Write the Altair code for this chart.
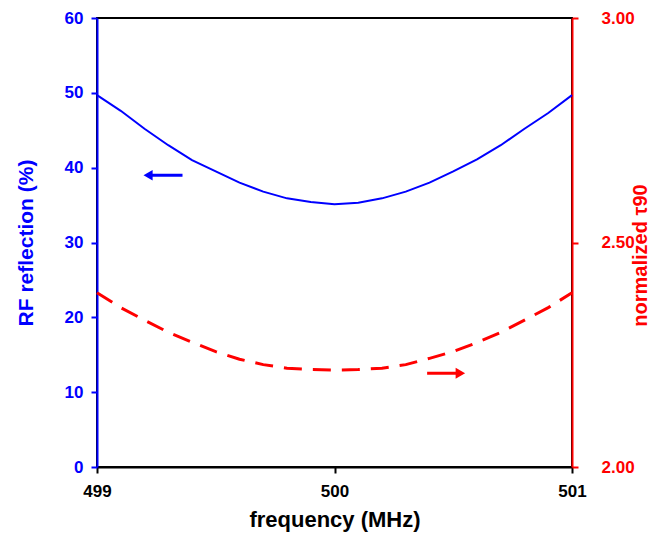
import altair as alt
import pandas as pd

freq = [499.0, 499.1, 499.2, 499.3, 499.4, 499.5, 499.6, 499.7, 499.8, 499.9, 500.0,
        500.1, 500.2, 500.3, 500.4, 500.5, 500.6, 500.7, 500.8, 500.9, 501.0]
rf_reflection = [49.7, 47.6, 45.2, 43.0, 41.0, 39.5, 38.0, 36.8, 35.9, 35.4, 35.1,
                 35.3, 35.9, 36.8, 38.0, 39.5, 41.1, 43.0, 45.2, 47.3, 49.7]
tau90 = [2.388, 2.355, 2.327, 2.300, 2.278, 2.257, 2.240, 2.228, 2.220, 2.217, 2.216,
         2.217, 2.220, 2.228, 2.242, 2.257, 2.277, 2.300, 2.327, 2.355, 2.388]

# arrow annotations (data coordinates)
blue_arrow = {"x_tail": [499.36], "x_head": [499.215], "y": [39.0]}
red_arrow = {"x_tail": [500.39], "x_head": [500.53], "y": [2.209]}

BLUE = "#0000FF"
RED = "#FF0000"
FONT = "Liberation Sans"

df = pd.DataFrame({"freq": freq, "rf": rf_reflection, "tau": tau90})
dfb = pd.DataFrame(blue_arrow)
dfr = pd.DataFrame(red_arrow)

xscale = alt.Scale(domain=[499, 501], nice=False, zero=False)
xaxis = alt.Axis(tickCount=3, format="d", grid=False, domainColor="black",
                 domainWidth=2, tickColor="black", tickWidth=2, tickSize=6,
                 labelColor="black", labelFont=FONT, labelFontSize=17, labelFontWeight="bold",
                 labelFlush=False, labelOverlap=False, labelBound=False,
                 labelPadding=10, title="frequency (MHz)", titleFont=FONT, titleFontSize=22,
                 titleFontWeight="bold", titleColor="black", titlePadding=10)

lscale = alt.Scale(domain=[0, 60], nice=False)
laxis = alt.Axis(values=[0, 10, 20, 30, 40, 50, 60], grid=False, domainColor=BLUE,
                 domainWidth=2, tickColor=BLUE, tickWidth=2, tickSize=6,
                 labelColor=BLUE, labelFont=FONT, labelFontSize=17, labelFontWeight="bold",
                 labelFlush=False, labelOverlap=False, labelBound=False,
                 labelPadding=8, title="RF reflection (%)", titleFont=FONT, titleFontSize=21,
                 titleFontWeight="bold", titleColor=BLUE, titlePadding=28)

rscale = alt.Scale(domain=[2.0, 3.0], nice=False, zero=False)
raxis = alt.Axis(orient="right", values=[2.0, 2.5, 3.0], format=".2f", grid=False,
                 domainColor=RED, domainWidth=2, tickColor=RED, tickWidth=2, tickSize=6,
                 labelColor=RED, labelFont=FONT, labelFontSize=17, labelFontWeight="bold",
                 labelFlush=False, labelOverlap=False, labelBound=False,
                 labelPadding=23, title="normalized τ90", titleFont=FONT, titleFontSize=20,
                 titleFontWeight="bold", titleColor=RED, titleAngle=270, titlePadding=16,
                 titleY=237)

blue_line = alt.Chart(df).mark_line(color=BLUE, strokeWidth=2).encode(
    x=alt.X("freq:Q", scale=xscale, axis=xaxis),
    y=alt.Y("rf:Q", scale=lscale, axis=laxis),
)
blue_shaft = alt.Chart(dfb).mark_rule(color=BLUE, strokeWidth=3).encode(
    x=alt.X("x_tail:Q", scale=xscale, axis=xaxis),
    x2="x_head:Q",
    y=alt.Y("y:Q", scale=lscale, axis=laxis),
)
blue_head = alt.Chart(dfb).mark_point(shape="triangle-left", filled=True, color=BLUE,
                                       size=110, opacity=1).encode(
    x=alt.X("x_head:Q", scale=xscale, axis=xaxis),
    y=alt.Y("y:Q", scale=lscale, axis=laxis),
)
left = alt.layer(blue_line, blue_shaft, blue_head)

red_line = alt.Chart(df).mark_line(color=RED, strokeWidth=3, strokeDash=[18, 11]).encode(
    x=alt.X("freq:Q", scale=xscale, axis=xaxis),
    y=alt.Y("tau:Q", scale=rscale, axis=raxis),
)
red_shaft = alt.Chart(dfr).mark_rule(color=RED, strokeWidth=3).encode(
    x=alt.X("x_tail:Q", scale=xscale, axis=xaxis),
    x2="x_head:Q",
    y=alt.Y("y:Q", scale=rscale, axis=raxis),
)
red_head = alt.Chart(dfr).mark_point(shape="triangle-right", filled=True, color=RED,
                                      size=120, opacity=1).encode(
    x=alt.X("x_head:Q", scale=xscale, axis=xaxis),
    y=alt.Y("y:Q", scale=rscale, axis=raxis),
)
right = alt.layer(red_line, red_shaft, red_head)

chart = alt.layer(left, right).resolve_scale(y="independent").properties(
    width=475, height=449,
    autosize=alt.AutoSizeParams(type="none"),
    padding={"left": 89, "top": 10, "right": 88, "bottom": 66},
    background="white",
).configure_view(stroke="black", strokeWidth=2)

chart.save("out.html", embed_options={"renderer": "svg", "actions": False})
